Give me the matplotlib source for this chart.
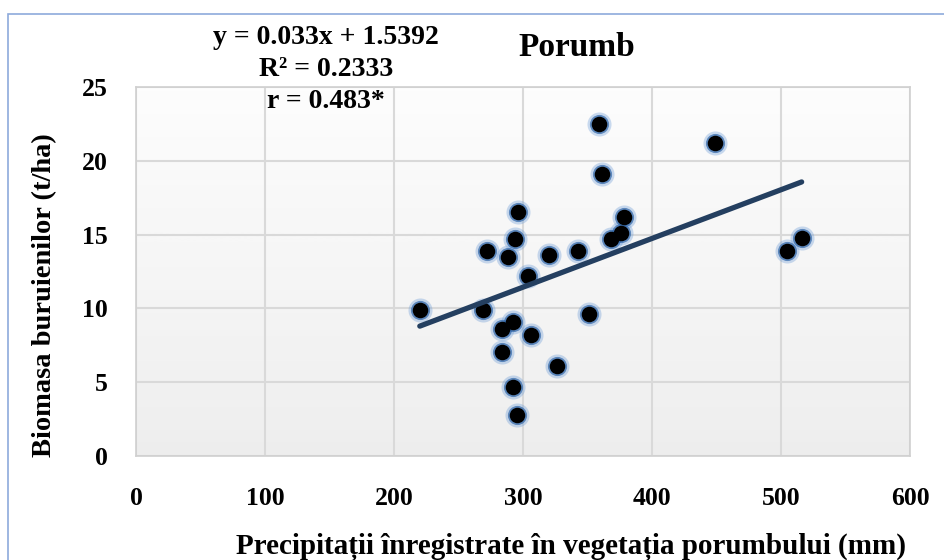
import numpy as np
import matplotlib.pyplot as plt
from matplotlib.patches import Rectangle

# Precipitation (mm) and weed biomass (t/ha)
precip = [220, 272, 269, 288, 294, 296, 304, 292, 284, 284, 306, 292, 295,
          326, 320, 343, 351, 359, 361, 368, 376, 378, 449, 505, 516]
biomass = [9.9, 13.9, 9.9, 13.5, 14.7, 16.5, 12.2, 9.1, 8.6, 7.05, 8.2, 4.65, 2.75,
           6.1, 13.6, 13.9, 9.6, 22.5, 19.1, 14.7, 15.1, 16.2, 21.2, 13.9, 14.8]

slope, intercept = 0.033, 1.5392
eq_lines = ['y = 0.033x + 1.5392', 'R² = 0.2333', 'r = 0.483*']

x_ticks = [0, 100, 200, 300, 400, 500, 600]
y_ticks = [0, 5, 10, 15, 20, 25]

plt.rcParams['font.family'] = ['Liberation Serif', 'DejaVu Serif']
plt.rcParams['font.weight'] = 'bold'

fig = plt.figure(figsize=(9.45, 5.6), dpi=100)
ax = fig.add_axes([136 / 945, 104 / 560, 774 / 945, 369 / 560])

# outer chart frame (light blue, Excel style)
fig.patches.append(Rectangle((8 / 945, -0.1), 1.2, 1.1 - 14 / 560,
                             transform=fig.transFigure, fill=False,
                             edgecolor='#8eaadb', linewidth=1.2))

ax.set_xlim(0, 600)
ax.set_ylim(0, 25)

# gradient plot area: white at top, light grey at bottom
grad = np.linspace(1.0, 0.0, 256).reshape(-1, 1)
ax.imshow(grad, extent=[0, 600, 0, 25], aspect='auto', cmap='Greys',
          vmin=-0.15, vmax=8, origin='lower', zorder=0)

ax.set_xticks(x_ticks)
ax.set_yticks(y_ticks)
ax.grid(True, color='#d9d9d9', linewidth=1.5, zorder=1)
ax.tick_params(length=0, labelsize=18.5)
ax.tick_params(axis='x', pad=22)
ax.tick_params(axis='y', pad=20)
for lbl in ax.get_xticklabels() + ax.get_yticklabels():
    lbl.set_fontweight('bold')
for s in ax.spines.values():
    s.set_color('#d0d0d0')
    s.set_linewidth(1.2)

# points with blue glow
ax.scatter(precip, biomass, s=300, color='#6a9ad6', alpha=0.35, linewidths=0, zorder=3)
ax.scatter(precip, biomass, s=190, color='#2f65a8', alpha=0.7, linewidths=0, zorder=3)
ax.scatter(precip, biomass, s=125, color='black', linewidths=0, zorder=4)

# trend line
xs = np.array([min(precip), max(precip)])
ax.plot(xs, slope * xs + intercept, color='#243f60', linewidth=3.8,
        solid_capstyle='round', zorder=5)

fig.text(577 / 945, 1 - 47 / 560, 'Porumb', ha='center', va='center',
         fontsize=24, fontweight='bold')
for i, t in enumerate(eq_lines):
    fig.text(326 / 945, 1 - (38 + i * 32) / 560, t, ha='center', va='center',
             fontsize=20, fontweight='bold')

fig.text(45 / 945, 1 - 295 / 560, 'Biomasa buruienilor (t/ha)', rotation=90,
         ha='center', va='center', fontsize=20.5, fontweight='bold')
fig.text(571 / 945, 1 - 547 / 560, 'Precipitații înregistrate în vegetația porumbului (mm)',
         ha='center', va='center', fontsize=21, fontweight='bold')

fig.savefig('out.png', dpi=100)
